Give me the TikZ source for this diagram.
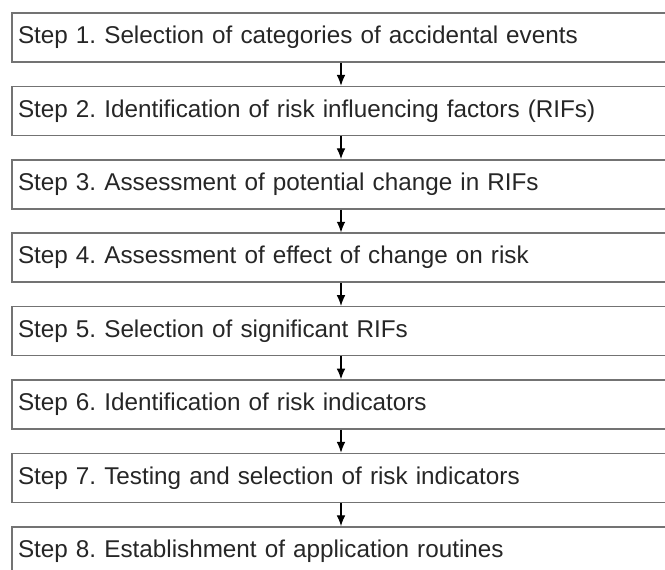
\documentclass[tikz,border=0pt]{standalone}
\usepackage{fontspec}
\setmainfont{Liberation Sans}
\usetikzlibrary{arrows.meta,positioning}
\frenchspacing

\begin{document}
\begin{tikzpicture}[node distance=55.05pt,>={Latex[length=8pt,width=6.5pt]}]
  \tikzstyle{stepbox}=[draw=black!55,line width=1.1pt,minimum height=36.75pt,
    text width=499.5pt,inner xsep=4.5pt,align=left,text=black!85,
    font=\fontsize{18.2}{21}\selectfont]

  \useasboundingbox (0,0) rectangle (498.75pt,-427.5pt);

  \node[stepbox] (s1) at (263.25pt,-28.125pt) {Step 1. Selection of categories of accidental events};
  \node[stepbox] (s2) [below of=s1] {Step 2. Identification of risk influencing factors (RIFs)};
  \node[stepbox] (s3) [below of=s2] {Step 3. Assessment of potential change in RIFs};
  \node[stepbox] (s4) [below of=s3] {Step 4. Assessment of effect of change on risk};
  \node[stepbox] (s5) [below of=s4] {Step 5. Selection of significant RIFs};
  \node[stepbox] (s6) [below of=s5] {Step 6. Identification of risk indicators};
  \node[stepbox] (s7) [below of=s6] {Step 7. Testing and selection of risk indicators};
  \node[stepbox] (s8) [below of=s7] {Step 8. Establishment of application routines};

  \path[->,line width=0.8pt]
  ([xshift=-7.5pt]s1.south) edge ([xshift=-7.5pt]s2.north)
  ([xshift=-7.5pt]s2.south) edge ([xshift=-7.5pt]s3.north)
  ([xshift=-7.5pt]s3.south) edge ([xshift=-7.5pt]s4.north)
  ([xshift=-7.5pt]s4.south) edge ([xshift=-7.5pt]s5.north)
  ([xshift=-7.5pt]s5.south) edge ([xshift=-7.5pt]s6.north)
  ([xshift=-7.5pt]s6.south) edge ([xshift=-7.5pt]s7.north)
  ([xshift=-7.5pt]s7.south) edge ([xshift=-7.5pt]s8.north);
\end{tikzpicture}
\end{document}
